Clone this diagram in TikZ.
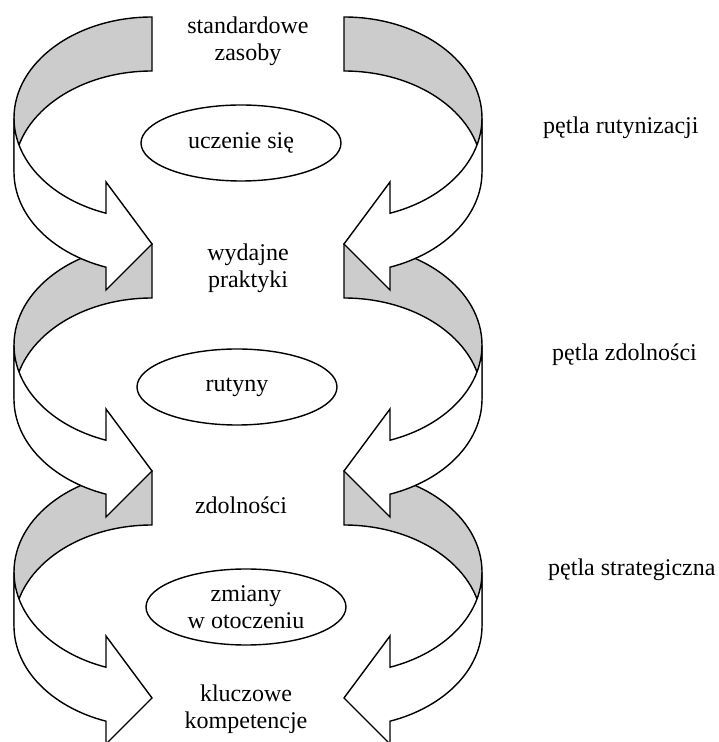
\documentclass[tikz,border=0pt]{standalone}
\usepackage{fontspec}
\setmainfont{Liberation Serif}
\usetikzlibrary{positioning, calc, shapes.geometric}
\definecolor{backGray}{RGB}{204, 204, 204}
\tikzset{
  bandback/.style={draw=black, fill=backGray, line width=1.4pt, line join=miter},
  bandfront/.style={draw=black, fill=white, line width=1.4pt, line join=miter},
  stagelbl/.style={align=center, inner sep=1pt,
                   font=\fontsize{24}{27}\selectfont},
  corebox/.style={ellipse, draw=black, line width=1.4pt, inner sep=0pt,
                  minimum width=200pt, minimum height=76pt,
                  align=center, font=\fontsize{24}{27}\selectfont},
  looplbl/.style={anchor=west, inner sep=0pt, font=\fontsize{24}{27}\selectfont},
}
% one half of a loop: grey back of the band, white front with the head
\newcommand{\halfloop}[1]{%
  \draw[bandback] (152,#1)
      arc[start angle=90, end angle=180, x radius=138, y radius=101]
      -- (14,#1-155)
      arc[start angle=180, end angle=90, x radius=138, y radius=101] -- cycle;
  \draw[bandfront] (14,#1-101)
      arc[start angle=180, end angle=250.53, x radius=138, y radius=101]
      -- (106,#1-165) -- (152,#1-227) -- (106,#1-273) -- (106,#1-250.2)
      arc[start angle=250.53, end angle=180, x radius=138, y radius=101] -- cycle;
}

\begin{document}
\begin{tikzpicture}[x=1pt, y=1pt]
    \useasboundingbox (0,0) rectangle (718,742);

    % loops, lowest first so the upper heads lie on top
    \foreach \yt in {271, 498, 725} {
      \halfloop{\yt}
      \begin{scope}[shift={(496,0)}, xscale=-1]
        \halfloop{\yt}
      \end{scope}
    }

    \node[stagelbl] (zasoby) at (248,701) {standardowe\\zasoby};
    \node[corebox] (uczenie) at (241,599) {uczenie się};
    \node[stagelbl] (praktyki) at (248,473.5) {wydajne\\praktyki};
    \node[corebox] (rutyny) at (237,355) {rutyny};
    \node[stagelbl] (zdolnosci) at (241,237) {zdolności};
    \node[corebox] (zmiany) at (246,135) {zmiany\\w otoczeniu};
    \node[stagelbl] (kompetencje) at (246,33) {kluczowe\\kompetencje};

    \node[looplbl] (rutynizacja) at (543,614) {pętla rutynizacji};
    \node[looplbl] (petlazdoln) at (552,387) {pętla zdolności};
    \node[looplbl] (strategia) at (548,172) {pętla strategiczna};
\end{tikzpicture}
\end{document}
